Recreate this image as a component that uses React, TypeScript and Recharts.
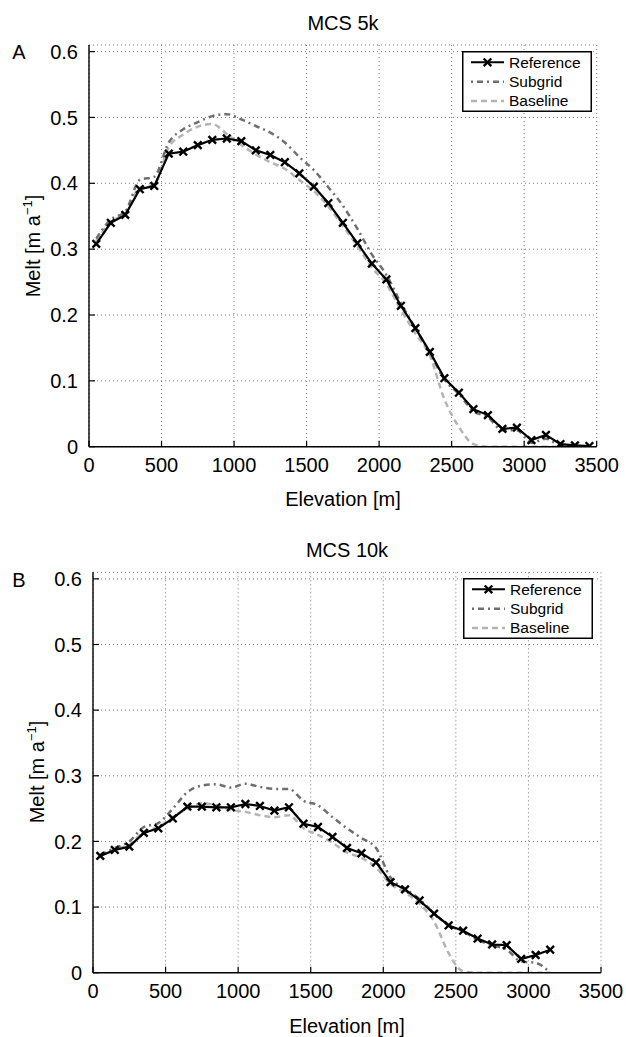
import React from 'react';
import { LineChart, Line, XAxis, YAxis, CartesianGrid, Legend } from 'recharts';

const FONT = '"Liberation Sans", Arial, Helvetica, sans-serif';

const xTicks = [0, 500, 1000, 1500, 2000, 2500, 3000, 3500];
const yTicks = [0, 0.1, 0.2, 0.3, 0.4, 0.5, 0.6];

const elevTop = [50, 150, 250, 350, 450, 550, 650, 750, 850, 950, 1050, 1150, 1250, 1350, 1450, 1550, 1650, 1750, 1850, 1950, 2050, 2150, 2250, 2350, 2450, 2550, 2650, 2750, 2850, 2950, 3050, 3150, 3250, 3350, 3450];
const refTop = [0.308, 0.340, 0.352, 0.391, 0.396, 0.445, 0.448, 0.458, 0.466, 0.468, 0.464, 0.450, 0.443, 0.432, 0.415, 0.395, 0.370, 0.340, 0.309, 0.278, 0.254, 0.214, 0.180, 0.144, 0.104, 0.082, 0.057, 0.048, 0.027, 0.029, 0.010, 0.018, 0.004, 0.002, 0.001];
const subTop = [0.316, 0.345, 0.357, 0.405, 0.410, 0.462, 0.482, 0.493, 0.502, 0.505, 0.497, 0.487, 0.477, 0.462, 0.440, 0.420, 0.394, 0.366, 0.331, 0.292, 0.261, 0.218, 0.180, 0.143, 0.102, 0.080, 0.054, 0.045, 0.025, 0.025, 0.006, 0.012, 0.002, 0.001, 0.000];
const baseTop = [0.312, 0.342, 0.354, 0.393, 0.398, 0.455, 0.474, 0.486, 0.490, 0.475, 0.458, 0.444, 0.432, 0.422, 0.405, 0.388, 0.365, 0.335, 0.305, 0.272, 0.247, 0.208, 0.172, 0.138, 0.072, 0.030, 0.004, 0, 0, 0, 0, 0, 0, 0, 0];

const elevBottom = [50, 150, 250, 350, 450, 550, 650, 750, 850, 950, 1050, 1150, 1250, 1350, 1450, 1550, 1650, 1750, 1850, 1950, 2050, 2150, 2250, 2350, 2450, 2550, 2650, 2750, 2850, 2950, 3050, 3150];
const refBottom = [0.178, 0.187, 0.192, 0.213, 0.220, 0.235, 0.253, 0.253, 0.252, 0.252, 0.257, 0.254, 0.247, 0.252, 0.227, 0.222, 0.207, 0.190, 0.182, 0.168, 0.138, 0.127, 0.110, 0.090, 0.072, 0.064, 0.052, 0.043, 0.042, 0.021, 0.027, 0.035];
const subBottom = [0.180, 0.190, 0.200, 0.222, 0.228, 0.250, 0.275, 0.285, 0.287, 0.282, 0.288, 0.283, 0.280, 0.280, 0.262, 0.255, 0.237, 0.220, 0.205, 0.190, 0.145, 0.128, 0.112, 0.090, 0.072, 0.063, 0.050, 0.042, 0.035, 0.017, 0.015, 0.000];
const baseBottom = [0.178, 0.188, 0.195, 0.215, 0.222, 0.237, 0.250, 0.258, 0.255, 0.248, 0.245, 0.240, 0.237, 0.240, 0.220, 0.210, 0.198, 0.183, 0.175, 0.160, 0.135, 0.122, 0.105, 0.078, 0.030, 0.002, 0, 0, 0, 0, 0, 0];

const seriesNames = ['Reference', 'Subgrid', 'Baseline'];

function buildRows(elev: number[], ref: number[], sub: number[], base: number[]) {
  return elev.map((e, i) => ({ elev: e, ref: ref[i], sub: sub[i], base: base[i] }));
}

const topData = buildRows(elevTop, refTop, subTop, baseTop);
const bottomData = buildRows(elevBottom, refBottom, subBottom, baseBottom);

const SUB_COLOR = '#6e6e6e';
const BASE_COLOR = '#b4b4b4';

const XMark = (props: any) => {
  const { cx, cy } = props;
  if (cx == null || cy == null) return null;
  const s = 3.8;
  return (
    <path
      d={`M${cx - s},${cy - s}L${cx + s},${cy + s}M${cx - s},${cy + s}L${cx + s},${cy - s}`}
      stroke="#000"
      strokeWidth={2.4}
      fill="none"
    />
  );
};

const LegendBox = () => {
  const rows = [11.3, 30.7, 50];
  return (
    <svg width={130} height={61} style={{ display: 'block' }}>
      <rect x={0.75} y={0.75} width={128.5} height={59.5} fill="#fff" stroke="#000" strokeWidth={1.5} />
      <line x1={9} x2={42} y1={rows[0]} y2={rows[0]} stroke="#000" strokeWidth={2} />
      <XMark cx={25.5} cy={rows[0]} />
      <line x1={9} x2={42} y1={rows[1]} y2={rows[1]} stroke={SUB_COLOR} strokeWidth={2.5} strokeDasharray="2 4 6 4" />
      <line x1={9} x2={42} y1={rows[2]} y2={rows[2]} stroke={BASE_COLOR} strokeWidth={2.5} strokeDasharray="6 4" />
      {seriesNames.map((n, i) => (
        <text key={n} x={47} y={rows[i]} dy="0.35em" fontSize={15.5} fontFamily={FONT} fill="#000">
          {n}
        </text>
      ))}
    </svg>
  );
};

type Geo = { height: number; mt: number; ml: number; mr: number; mb: number; legendTop: number; legendLeft: number };

const Panel = ({ data, geo }: { data: any[]; geo: Geo }) => {
  const tickStyle = { fill: '#000', fontSize: 20, fontFamily: FONT };
  const axisLine = { stroke: '#000', strokeWidth: 1.4 };
  const tickLine = { stroke: '#000', strokeWidth: 1.2 };
  return (
    <LineChart width={626} height={geo.height} data={data} margin={{ top: geo.mt, left: geo.ml, right: geo.mr, bottom: geo.mb }}>
      <CartesianGrid xAxisId="b" yAxisId="l" stroke="#7a7a7a" strokeDasharray="1 3" strokeWidth={1} />
      <XAxis
        xAxisId="b"
        type="number"
        dataKey="elev"
        domain={[0, 3500]}
        ticks={xTicks}
        allowDataOverflow
        interval={0}
        height={50}
        tickSize={-6}
        tickMargin={17}
        tick={tickStyle}
        axisLine={axisLine}
        tickLine={tickLine}
      />
      <XAxis
        xAxisId="t"
        orientation="top"
        type="number"
        dataKey="elev"
        domain={[0, 3500]}
        ticks={xTicks}
        allowDataOverflow
        interval={0}
        height={0}
        tickSize={-6}
        tickFormatter={() => ''}
        axisLine={axisLine}
        tickLine={tickLine}
      />
      <YAxis
        yAxisId="l"
        type="number"
        domain={[0, 0.61]}
        ticks={yTicks}
        allowDataOverflow
        interval={0}
        width={60}
        tickSize={-6}
        tickMargin={17}
        tick={tickStyle}
        axisLine={axisLine}
        tickLine={tickLine}
        tickFormatter={(v: number) => (v === 0 ? '0' : v.toFixed(1))}
      />
      <YAxis
        yAxisId="r"
        orientation="right"
        type="number"
        domain={[0, 0.61]}
        ticks={yTicks}
        allowDataOverflow
        interval={0}
        width={0}
        tickSize={-6}
        tickFormatter={() => ''}
        axisLine={axisLine}
        tickLine={tickLine}
      />
      <Line
        xAxisId="b"
        yAxisId="l"
        dataKey="base"
        name={seriesNames[2]}
        type="monotone"
        stroke={BASE_COLOR}
        strokeWidth={2.5}
        strokeDasharray="6 4"
        dot={false}
        activeDot={false}
        isAnimationActive={false}
      />
      <Line
        xAxisId="b"
        yAxisId="l"
        dataKey="sub"
        name={seriesNames[1]}
        type="monotone"
        stroke={SUB_COLOR}
        strokeWidth={2.5}
        strokeDasharray="6 4 2 4"
        dot={false}
        activeDot={false}
        isAnimationActive={false}
      />
      <Line
        xAxisId="b"
        yAxisId="l"
        dataKey="ref"
        name={seriesNames[0]}
        type="linear"
        stroke="#000"
        strokeWidth={2.2}
        dot={<XMark />}
        activeDot={false}
        isAnimationActive={false}
      />
      <Legend
        layout="horizontal"
        verticalAlign="middle"
        align="center"
        wrapperStyle={{ top: geo.legendTop, left: geo.legendLeft, width: 130, height: 61 }}
        content={() => <LegendBox />}
      />
    </LineChart>
  );
};

const textBase: React.CSSProperties = {
  position: 'absolute',
  fontFamily: FONT,
  fontSize: 20,
  lineHeight: '20px',
  color: '#000',
  whiteSpace: 'nowrap',
};

const YLabel = ({ x, y }: { x: number; y: number }) => (
  <div style={{ ...textBase, left: x, top: y, transform: 'translate(-50%, -50%) rotate(-90deg)' }}>
    Melt [m a<span style={{ fontSize: 13, position: 'relative', top: -8 }}>−1</span>]
  </div>
);

const CenterText = ({ x, y, children }: { x: number; y: number; children: React.ReactNode }) => (
  <div style={{ ...textBase, left: x, top: y - 10, transform: 'translateX(-50%)' }}>{children}</div>
);

const topGeo: Geo = { height: 520, mt: 45, ml: 29, mr: 29.3, mb: 23.3, legendTop: 51, legendLeft: 462 };
const bottomGeo: Geo = { height: 517, mt: 52.3, ml: 33, mr: 25, mb: 14.3, legendTop: 58, legendLeft: 463 };

export default function App() {
  return (
    <div style={{ position: 'absolute', left: 0, top: 0, width: 626, height: 1037, background: '#fff', overflow: 'hidden' }}>
      <div style={{ position: 'absolute', left: 0, top: 0 }}>
        <Panel data={topData} geo={topGeo} />
      </div>
      <div style={{ position: 'absolute', left: 0, top: 520 }}>
        <Panel data={bottomData} geo={bottomGeo} />
      </div>
      <CenterText x={343} y={23}>MCS 5k</CenterText>
      <CenterText x={347} y={550}>MCS 10k</CenterText>
      <CenterText x={19} y={52}>A</CenterText>
      <CenterText x={19} y={580}>B</CenterText>
      <CenterText x={343} y={499}>Elevation [m]</CenterText>
      <CenterText x={347} y={1026}>Elevation [m]</CenterText>
      <YLabel x={34} y={246} />
      <YLabel x={38} y={772} />
    </div>
  );
}
